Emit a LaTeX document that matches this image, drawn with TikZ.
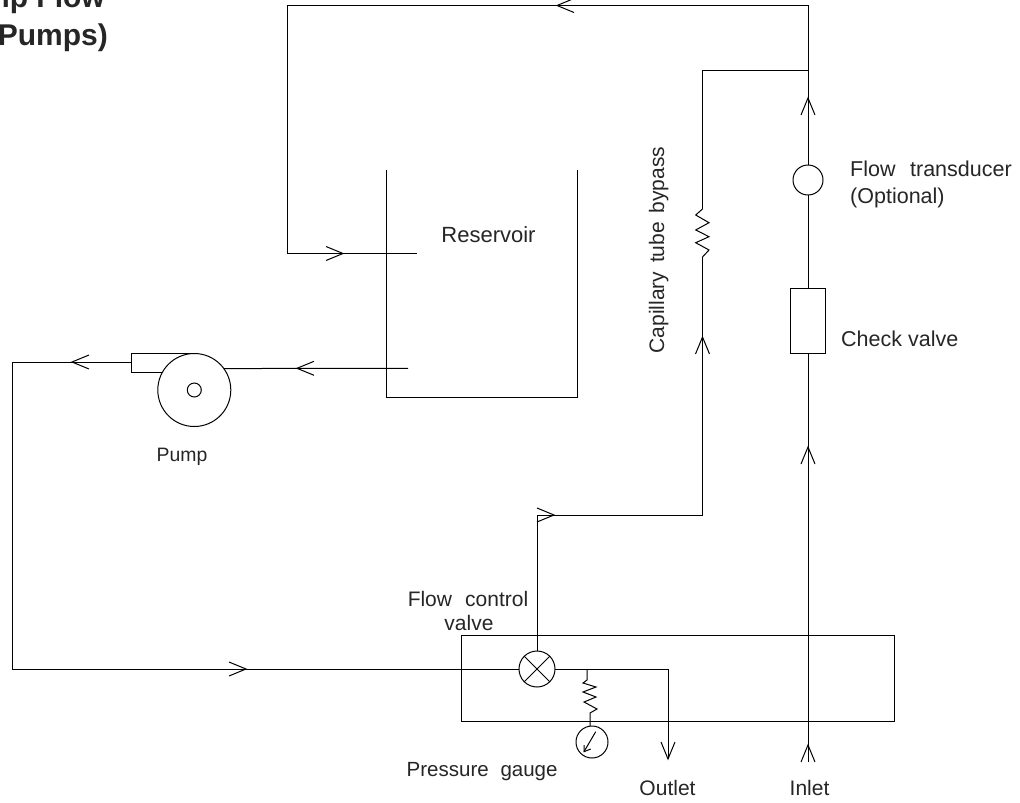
\documentclass[tikz,border=0pt]{standalone}
\usepackage{fontspec}
\setmainfont{Liberation Sans}
\usetikzlibrary{calc}
\definecolor{txt}{gray}{0.15}
\tikzset{
  x=1pt,y=-1pt,
  pipe/.style={draw=black,line width=1pt,line join=miter},
  part/.style={draw=black,line width=1pt,inner sep=0pt,outer sep=0pt,fill=white},
  lbl/.style={text=txt,inner sep=0pt,font=\fontsize{21}{25}\selectfont},
  ttl/.style={text=txt,inner sep=0pt,font=\bfseries\fontsize{30}{35}\selectfont},
  pics/chev/.style={code={\draw[pipe] (-17pt,7pt)--(0pt,0pt)--(-17pt,-7pt);}}
}
\begin{document}
\begin{tikzpicture}
\useasboundingbox (0,0) rectangle (1020,803);
\fill[white] (0,0) rectangle (1020,803);
% pipes
\coordinate (topR) at (808,5.5);
\coordinate (topL) at (287,5.5);
\coordinate (inL) at (287,253.5);
\coordinate (inEnd) at (417,253.5);
\coordinate (teeT) at (808,70);
\coordinate (bypT) at (702.5,70);
\coordinate (resT) at (702.5,209);
\coordinate (resB) at (702.5,257);
\coordinate (bypB) at (702.5,515);
\coordinate (bypL) at (537,515);
\coordinate (suck) at (408,368.3);
\coordinate (dis) at (131,362);
\coordinate (disL) at (12,362);
\coordinate (disB) at (12,669);
\coordinate (outC) at (668,669);
\coordinate (outE) at (668,759);
\coordinate (inlet) at (808,762);
\coordinate (gT) at (587,669);
\coordinate (gZ) at (587,680);
\coordinate (gZb) at (590,713);
% reservoir
\draw[pipe] (386,170) -- (386,397.5) -- (577,397.5) -- (577,170);
\node[lbl,anchor=base,font=\fontsize{22}{26}\selectfont] (reservoir) at (488.5,242) {Reservoir};
% manifold
\draw[pipe] (461,635) rectangle (894,721.5);
% pump body
\draw[pipe] (195,353.3) -- (131,353.3) -- (131,372) -- (163,372);
\node[part,circle,minimum size=73pt] (pump) at (194.3,390) {};
\node[part,circle,minimum size=14pt] (hub) at (194.3,390) {};
% valve, gauge, transducer, check
\node[part,circle,minimum size=36pt] (valve) at (537,669) {};
\node[part,circle,minimum size=32pt] (gauge) at (592,742) {};
\node[part,circle,minimum size=30pt] (trans) at (808,180) {};
\node[part,minimum width=35pt,minimum height=65pt] (check) at (808,320.5) {};
\draw[pipe] (valve.45) -- (valve.225) (valve.135) -- (valve.315);
% connectors
\draw[pipe] (trans.north) -- (topR) -- (topL) -- (inL) -- (inEnd);
\draw[pipe] (teeT) -- (bypT) -- (resT);
\draw[pipe] (resT) -- (695.7,215) -- (709,222.7) -- (695.7,230) -- (709,236.7) -- (695.7,242.7) -- (709,250) -- (resB);
\draw[pipe] (resB) -- (bypB) -- (bypL) -- (valve.north);
\draw[pipe] (suck) -- (pump.36);
\draw[pipe] (dis) -- (disL) -- (disB) -- (valve.west);
\draw[pipe] (valve.east) -- (outC) -- (outE);
\draw[pipe] (gT) -- (gZ) -- (583,683) -- (596,687) -- (583,692) -- (596,697) -- (584,702) -- (597,709) -- (gZb) -- (gauge.north -| gZb);
\draw[pipe] (trans.south) -- (check.north);
\draw[pipe] (check.south) -- (inlet);
% gauge needle
\coordinate (ndl) at (584,751.7);
\draw[pipe] (595.7,731.7) -- (ndl);
\draw[pipe] (584,745) -- (ndl) -- (590.7,749);
% flow arrows
\pic[rotate=180] at (557,5.5) {chev};
\pic at (343,253.5) {chev};
\pic[rotate=180] at (297,368.3) {chev};
\pic[rotate=180] at (72,362) {chev};
\pic at (246,669) {chev};
\pic at (554,515) {chev};
\pic[rotate=90] at (702.5,337) {chev};
\pic[rotate=90] at (808,98) {chev};
\pic[rotate=90] at (808,447) {chev};
\pic[rotate=90] at (808,745) {chev};
\pic[rotate=-90] at (668,759) {chev};
% labels
\node[lbl,anchor=base west,font=\fontsize{21.5}{25}\selectfont] (ftrans) at (850,176.7) {Flow\hspace{0.4em} transducer};
\node[lbl,anchor=base west,font=\fontsize{21.5}{25}\selectfont] (fopt) at (850,203) {(Optional)};
\node[lbl,anchor=base west,font=\fontsize{21.5}{25}\selectfont] (lcheck) at (841,346.7) {Check valve};
\node[lbl,anchor=base,rotate=90] (lcap) at (664,250) {Capillary\hspace{0.42em}tube\hspace{0.42em}bypass};
\node[lbl,anchor=base,font=\fontsize{19.4}{23}\selectfont] (lpump) at (182,461.7) {Pump};
\node[lbl,anchor=base east] (lfcv1) at (528.5,606) {Flow\hspace{0.35em} control};
\node[lbl,anchor=base] (lfcv2) at (469,630.7) {valve};
\node[lbl,anchor=base west,font=\fontsize{20.5}{25}\selectfont] (lpg) at (406.5,776.7) {Pressure\hspace{0.3em} gauge};
\node[lbl,anchor=base] (lout) at (667.5,795) {Outlet};
\node[lbl,anchor=base] (lin) at (809.5,795) {Inlet};
% cropped title
\node[ttl,anchor=base east] (t1) at (105,8) {mp Flow};
\node[ttl,anchor=base east] (t2) at (108,45) {Pumps)};
\end{tikzpicture}
\end{document}
